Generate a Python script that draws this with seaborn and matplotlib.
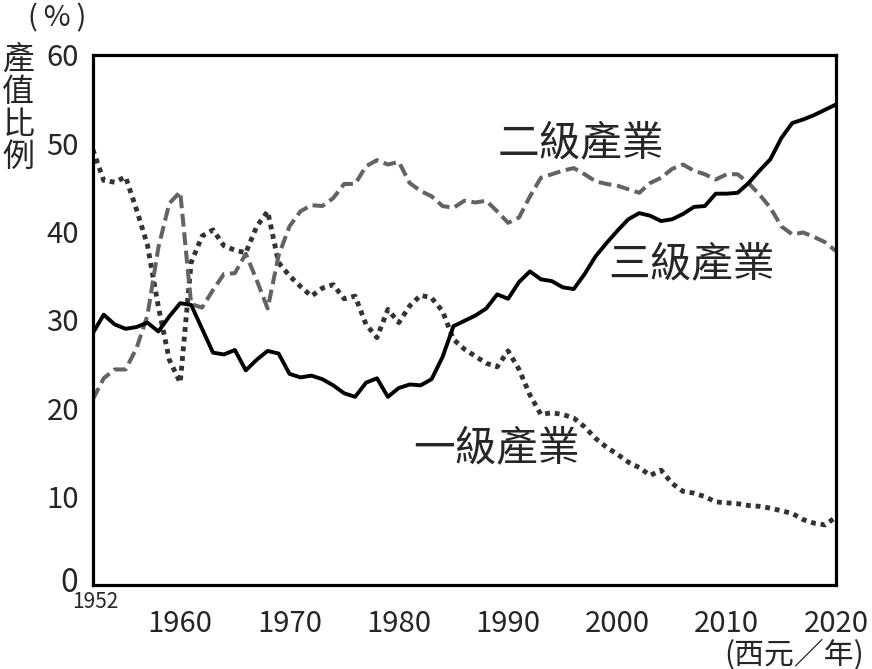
import numpy as np
import pandas as pd
import seaborn as sns
import matplotlib.pyplot as plt
from matplotlib.ticker import MultipleLocator

years = list(range(1952, 2021))

# 一級產業 (dotted)
primary = [49.3, 45.8, 45.6, 46.2, 42.5, 38.5, 31.5, 25.5, 22.9, 36.5,
           39.5, 40.2, 38.4, 37.9, 37.6, 40.6, 42.3, 36.5, 35.0, 33.8,
           32.7, 33.6, 34.0, 32.4, 32.7, 29.5, 28.0, 31.2, 29.7, 31.6,
           32.8, 32.5, 31.0, 27.8, 26.7, 25.9, 25.1, 24.7, 26.5, 24.4,
           21.5, 19.3, 19.5, 19.3, 18.9, 17.9, 16.6, 15.6, 14.8, 13.9,
           13.3, 12.4, 13.0, 11.5, 10.6, 10.4, 10.0, 9.4, 9.3, 9.2,
           9.0, 8.9, 8.7, 8.4, 8.1, 7.4, 7.0, 6.8, 7.7]

# 二級產業 (dashed)
secondary = [21.0, 23.4, 24.4, 24.4, 26.8, 30.5, 38.2, 43.2, 44.5, 31.8,
             31.4, 33.4, 35.2, 35.3, 37.5, 34.5, 31.3, 37.3, 40.6, 42.3,
             43.0, 42.9, 43.8, 45.4, 45.4, 47.4, 48.1, 47.6, 47.9, 45.5,
             44.6, 44.0, 42.9, 42.7, 43.5, 43.3, 43.5, 42.3, 41.0, 41.6,
             44.0, 46.1, 46.5, 46.9, 47.2, 46.5, 45.7, 45.4, 45.2, 44.8,
             44.4, 45.5, 46.1, 47.1, 47.6, 46.9, 46.5, 45.9, 46.5, 46.5,
             45.5, 44.2, 42.7, 40.6, 39.7, 39.9, 39.4, 38.8, 37.8]

# 三級產業 (solid)
tertiary = [28.5, 30.6, 29.5, 29.0, 29.2, 29.7, 28.7, 30.4, 31.9, 31.7,
            29.0, 26.3, 26.1, 26.6, 24.3, 25.5, 26.5, 26.2, 23.9, 23.5,
            23.7, 23.3, 22.6, 21.7, 21.3, 22.9, 23.4, 21.3, 22.3, 22.7,
            22.6, 23.3, 25.8, 29.3, 29.9, 30.5, 31.3, 32.9, 32.4, 34.3,
            35.5, 34.6, 34.4, 33.7, 33.5, 35.2, 37.2, 38.7, 40.1, 41.4,
            42.1, 41.8, 41.2, 41.4, 42.0, 42.8, 42.9, 44.3, 44.3, 44.4,
            45.5, 46.9, 48.2, 50.6, 52.3, 52.7, 53.2, 53.8, 54.4]

series_names = ["一級產業", "二級產業", "三級產業"]
x_ticks = [1960, 1970, 1980, 1990, 2000, 2010, 2020]
y_ticks = [0, 10, 20, 30, 40, 50, 60]

df = pd.DataFrame({"年": years, "一級產業": primary,
                   "二級產業": secondary, "三級產業": tertiary})

sns.set_style("white")
plt.rcParams['font.family'] = ['Noto Sans CJK TC', 'DejaVu Sans']

fig = plt.figure(figsize=(8.72, 6.69), dpi=100)
ax = fig.add_axes([0.1064, 0.1256, 0.8523, 0.7922])

sns.lineplot(data=df, x="年", y="一級產業", ax=ax, color="#333333",
             linewidth=3.5)
ax.lines[-1].set_dashes((1, 1))
sns.lineplot(data=df, x="年", y="二級產業", ax=ax, color="#636363",
             linewidth=2.9)
ax.lines[-1].set_dashes((3.2, 1.4))
sns.lineplot(data=df, x="年", y="三級產業", ax=ax, color="black",
             linewidth=2.8)

ax.set_xlim(1952, 2020)
ax.set_ylim(0, 60)
ax.set_xticks(x_ticks)
ax.xaxis.set_minor_locator(MultipleLocator(5))
ax.set_yticks(y_ticks)
ax.tick_params(axis="x", which="major", direction="in", length=14, width=0.9,
               pad=17, labelsize=21, color="#333333")
ax.tick_params(axis="x", which="minor", direction="in", length=8.5, width=0.9,
               color="#333333")
ax.tick_params(axis="y", direction="in", length=8, width=0.9, pad=10,
               labelsize=21, color="#333333")
ax.set_yticklabels(["" if v == 0 else str(v) for v in y_ticks])
for sp in ax.spines.values():
    sp.set_linewidth(2.3)
    sp.set_color("black")
ax.set_xlabel("")
ax.set_ylabel("")

# corner labels
ax.text(-0.031, 0.004, "0", transform=ax.transAxes, fontsize=23,
        ha="center", va="center")
ax.text(0.003, -0.033, "1952", transform=ax.transAxes, fontsize=15,
        ha="center", va="center")

# series labels
ax.text(1996.7, 50.0, "二級產業", fontsize=30, ha="center", va="center")
ax.text(2006.8, 36.2, "三級產業", fontsize=30, ha="center", va="center")
ax.text(1988.9, 15.4, "一級產業", fontsize=30, ha="center", va="center")

fig.text(0.066, 0.973, "(\u2009%\u2009)", fontsize=21, ha="center", va="center")
fig.text(0.021, 0.838, "產\n值\n比\n例", fontsize=23, ha="center",
         va="center", linespacing=1.02)
fig.text(0.911, 0.021, "(西元／年)", fontsize=21.5, ha="center", va="center")

fig.savefig("out.png", dpi=100, facecolor="white")
